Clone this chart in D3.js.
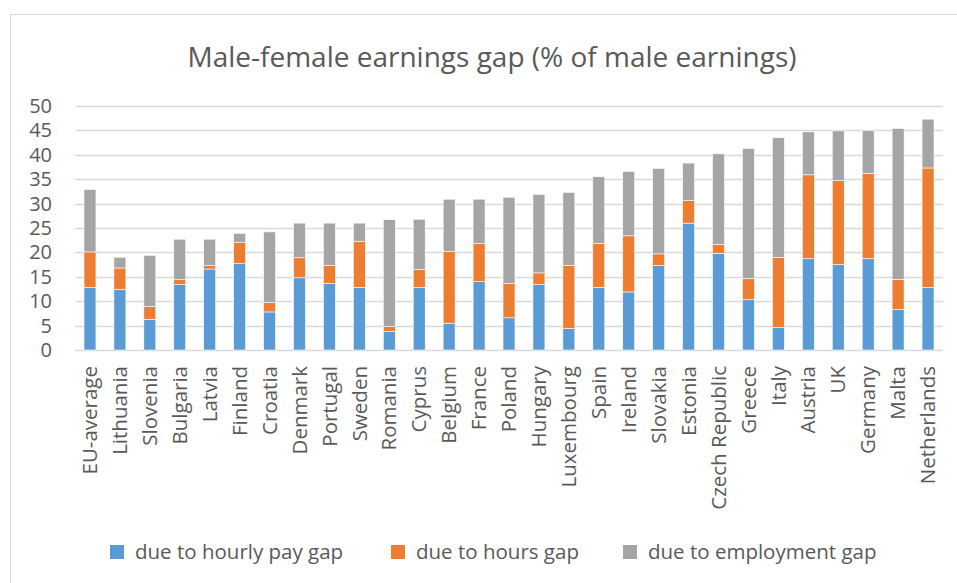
<!DOCTYPE html>
<html>
<head>
<meta charset="utf-8">
<script src="https://cdn.jsdelivr.net/npm/d3@7"></script>
<style>
  body { margin: 0; background: #fff; }
  text { font-family: "Open Sans", sans-serif; fill: #595959; }
</style>
</head>
<body>
<svg id="chart" width="957" height="583"></svg>
<script>
// values (segment sizes, % of male earnings)
var countries = ["EU-average", "Lithuania", "Slovenia", "Bulgaria", "Latvia", "Finland", "Croatia",
  "Denmark", "Portugal", "Sweden", "Romania", "Cyprus", "Belgium", "France", "Poland", "Hungary",
  "Luxembourg", "Spain", "Ireland", "Slovakia", "Estonia", "Czech Republic", "Greece", "Italy",
  "Austria", "UK", "Germany", "Malta", "Netherlands"];
var hourlyPayGap = [12.8, 12.4, 6.3, 13.4, 16.6, 17.7, 7.8, 14.8, 13.6, 12.8, 3.8, 12.8, 5.5, 14.0, 6.6, 13.4,
  4.4, 12.8, 11.9, 17.3, 26.0, 19.8, 10.3, 4.6, 18.7, 17.5, 18.7, 8.3, 12.8];
var hoursGap = [7.3, 4.4, 2.6, 1.0, 0.7, 4.3, 1.9, 4.1, 3.7, 9.4, 1.0, 3.7, 14.7, 7.8, 7.0, 2.4,
  12.9, 9.0, 11.5, 2.4, 4.6, 1.8, 4.3, 14.4, 17.2, 17.2, 17.5, 6.2, 24.5];
var employmentGap = [12.8, 2.2, 10.5, 8.3, 5.4, 1.9, 14.5, 7.1, 8.7, 3.8, 21.9, 10.3, 10.7, 9.1, 17.7, 16.1,
  15.0, 13.7, 13.2, 17.5, 7.7, 18.6, 26.7, 24.5, 8.8, 10.2, 8.8, 30.9, 10.0];
var seriesNames = ["due to hourly pay gap", "due to hours gap", "due to employment gap"];
var yTicks = [0, 5, 10, 15, 20, 25, 30, 35, 40, 45, 50];
var colors = ["#5b9bd5", "#ed7d31", "#a5a5a5"];

var rows = countries.map(function(c, i) {
  var r = { name: c };
  r[seriesNames[0]] = hourlyPayGap[i];
  r[seriesNames[1]] = hoursGap[i];
  r[seriesNames[2]] = employmentGap[i];
  return r;
});

var svg = d3.select("#chart");

// chart frame
svg.append("rect")
  .attr("x", 10.5).attr("y", 14.5)
  .attr("width", 960).attr("height", 580)
  .attr("fill", "#fff")
  .attr("stroke", "#d9d9d9");

svg.append("text")
  .attr("x", 492).attr("y", 67)
  .attr("text-anchor", "middle")
  .attr("font-size", 28)
  .text("Male-female earnings gap (% of male earnings)");

var x = d3.scaleBand()
  .domain(countries)
  .range([75, 943])
  .paddingInner(0.6)
  .paddingOuter(0.3);

var y = d3.scaleLinear()
  .domain([0, 50])
  .range([350, 106]);

// gridlines
svg.append("g")
  .selectAll("line")
  .data(yTicks)
  .enter().append("line")
    .attr("x1", 75).attr("x2", 943)
    .attr("y1", function(d) { return Math.round(y(d)) + 0.5; })
    .attr("y2", function(d) { return Math.round(y(d)) + 0.5; })
    .attr("stroke", "#d9d9d9")
    .attr("stroke-width", 1.5);

var yAxis = svg.append("g")
  .attr("transform", "translate(58,0)")
  .call(d3.axisLeft(y).tickValues(yTicks).tickSize(0).tickPadding(6));
yAxis.select(".domain").remove();
yAxis.selectAll("text")
  .attr("font-size", 20)
  .attr("font-family", "Open Sans, sans-serif")
  .attr("fill", "#595959");

var stacked = d3.stack().keys(seriesNames)(rows);

svg.append("g")
  .selectAll("g")
  .data(stacked)
  .enter().append("g")
    .attr("fill", function(d, i) { return colors[i]; })
  .selectAll("rect")
  .data(function(d) { return d; })
  .enter().append("rect")
    .attr("x", function(d) { return x(d.data.name); })
    .attr("width", x.bandwidth())
    .attr("y", function(d) { return y(d[1]); })
    .attr("height", function(d) { return y(d[0]) - y(d[1]); })
    .attr("stroke", "#fff")
    .attr("stroke-width", 0.6);

// category labels
svg.append("g")
  .selectAll("text")
  .data(countries)
  .enter().append("text")
    .attr("transform", function(d) {
      return "translate(" + (x(d) + x.bandwidth() / 2) + ",366)rotate(-90)";
    })
    .attr("text-anchor", "end")
    .attr("dy", "0.35em")
    .attr("font-size", 20.5)
    .text(function(d) { return d; });

// legend
var legendX = [110, 391, 623];
var legend = svg.append("g")
  .selectAll("g")
  .data(seriesNames)
  .enter().append("g")
    .attr("transform", function(d, i) { return "translate(" + legendX[i] + ",545)"; });
legend.append("rect")
  .attr("width", 14).attr("height", 14)
  .attr("fill", function(d, i) { return colors[i]; });
legend.append("text")
  .attr("x", 25).attr("y", 7)
  .attr("dy", "0.35em")
  .attr("font-size", 20.5)
  .text(function(d) { return d; });
</script>
</body>
</html>
